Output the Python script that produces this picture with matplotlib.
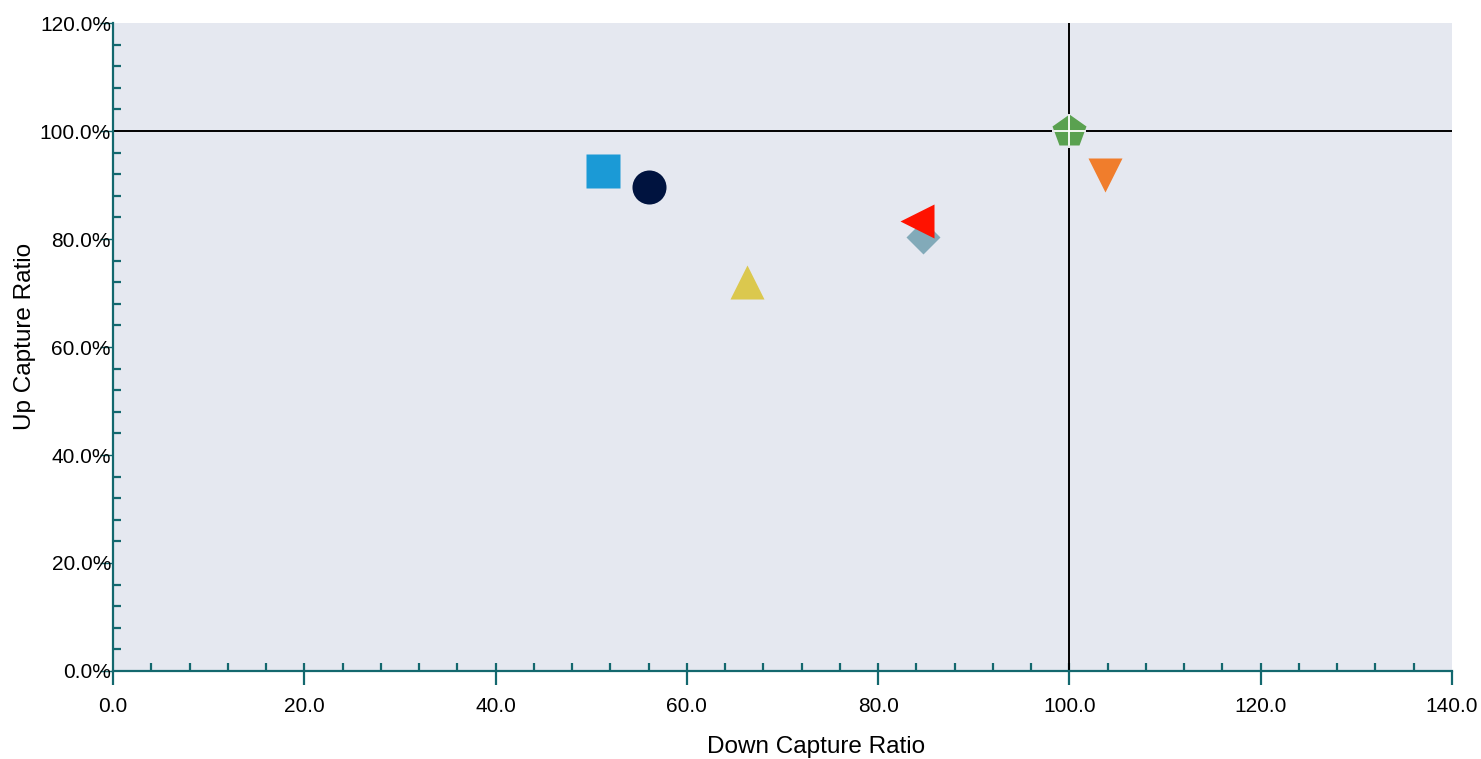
import numpy as np
import matplotlib
matplotlib.use("Agg")
import matplotlib.pyplot as plt
from matplotlib.ticker import FixedLocator, FuncFormatter

plt.rcParams['font.family'] = ['Liberation Sans', 'DejaVu Sans']

# down / up capture ratios for each series
down_capture = [51.2, 56.0, 66.3, 84.7, 84.1, 100.0, 103.7]
up_capture = [92.6, 89.6, 72.1, 80.4, 83.3, 100.0, 91.9]
markers = ['s', 'o', '^', 'D', '<', 'p', 'v']
colors = ['#1b9ad6', '#00133f', '#dbc84e', '#82aab9', '#ff1200', '#5aa150', '#f07d2c']
sizes = [24.5, 24.5, 24.5, 17.3, 24.5, 25, 24.5]

axis_color = '#13686e'

fig = plt.figure(figsize=(14.81, 7.59), dpi=100)
ax = fig.add_axes([113 / 1481, 88 / 759, 1339 / 1481, 648 / 759])
ax.set_facecolor('#e5e8f0')

ax.set_xlim(0, 140)
ax.set_ylim(0, 120)

# reference lines
ax.axvline(100, color='black', lw=1.4, zorder=2)
ax.axhline(100, color='black', lw=1.4, zorder=2)

# diamond goes under the red triangle
for i in range(len(down_capture)):
    ax.plot(down_capture[i], up_capture[i], marker=markers[i], ms=sizes[i],
            color=colors[i], mec='none', ls='none', zorder=3, clip_on=False)

# white cross on the benchmark marker
ax.plot(down_capture[5], up_capture[5], marker='+', ms=24, mew=1.3,
        color='white', ls='none', zorder=4)

for side in ['top', 'right']:
    ax.spines[side].set_visible(False)
for side in ['left', 'bottom']:
    ax.spines[side].set_color(axis_color)
    ax.spines[side].set_linewidth(1.6)

ax.xaxis.set_major_locator(FixedLocator(np.arange(0, 141, 20)))
ax.xaxis.set_minor_locator(FixedLocator(np.arange(4, 137, 4)))
ax.xaxis.remove_overlapping_locs = False
ax.yaxis.set_major_locator(FixedLocator(np.arange(0, 121, 20)))
ax.yaxis.set_minor_locator(FixedLocator([v for v in range(4, 120, 4) if v % 20 != 0]))

ax.xaxis.set_major_formatter(FuncFormatter(lambda v, p: f'{v:.1f}'))
ax.yaxis.set_major_formatter(FuncFormatter(lambda v, p: f'{v:.1f}%'))

ax.tick_params(axis='x', which='major', direction='out', length=10, width=1.6,
               color=axis_color, labelsize=15, pad=9)
ax.tick_params(axis='x', which='minor', direction='in', length=6, width=1.6,
               color=axis_color)
ax.tick_params(axis='y', which='major', direction='out', length=9.5, width=1,
               color=axis_color, labelsize=15, pad=-8)
ax.tick_params(axis='y', which='minor', direction='in', length=6, width=1.6,
               color=axis_color)

ax.set_xlabel('Down Capture Ratio', fontsize=17.5)
ax.set_ylabel('Up Capture Ratio', fontsize=17.5)
ax.xaxis.set_label_coords(0.525, -0.117)
ax.xaxis.label.set_va('center')
ax.yaxis.set_label_coords(-0.066, 0.516)
ax.yaxis.label.set_va('center')

fig.savefig('out.png', dpi=100)
